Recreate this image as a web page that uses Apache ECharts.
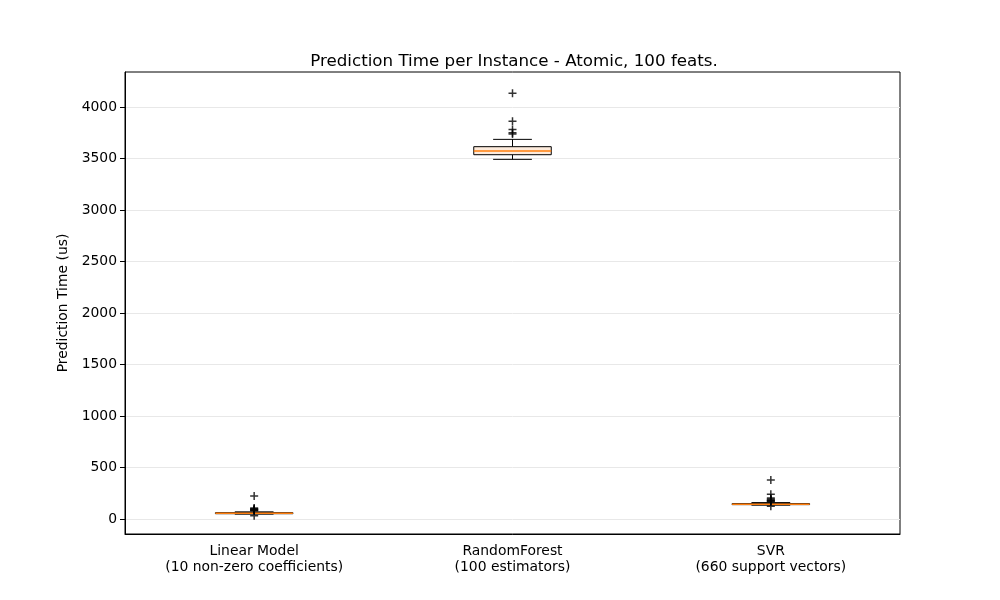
<!DOCTYPE html>
<html>
<head>
<meta charset="utf-8">
<script src="https://cdn.jsdelivr.net/npm/echarts@6/dist/echarts.min.js"></script>
<style>
  html, body { margin: 0; padding: 0; background: #fff; }
  #chart { width: 1000px; height: 600px; }
</style>
</head>
<body>
<div id="chart"></div>
<script>
// box statistics (microseconds)
const categories = [
  'Linear Model\n(10 non-zero coefficients)',
  'RandomForest\n(100 estimators)',
  'SVR\n(660 support vectors)'
];
const whiskerLow  = [48, 3492, 135];
const q1          = [52, 3537, 140];
const medians     = [57, 3573, 145];
const q3          = [62, 3615, 150];
const whiskerHigh = [70, 3686, 160];

// outliers per model
const fliersLinear = [223, 108, 100, 95, 90, 85, 80, 32];
const fliersForest = [4133, 3861, 3783, 3750, 3738];
const fliersSvr    = [380, 240, 205, 195, 185, 180, 175, 170, 125];

const yTicks = [0, 500, 1000, 1500, 2000, 2500, 3000, 3500, 4000];

const font = 'DejaVu Sans';

const boxData = categories.map((c, i) =>
  [i, whiskerLow[i], q1[i], medians[i], q3[i], whiskerHigh[i]]);

const flierData = [];
[fliersLinear, fliersForest, fliersSvr].forEach((arr, i) => {
  arr.forEach(v => flierData.push([i, v]));
});

function renderBox(params, api) {
  const x = api.value(0);
  const band = api.size([1, 0])[0];
  const half = band * 0.15;
  const cap = band * 0.075;
  const pLow = api.coord([x, api.value(1)]);
  const pQ1 = api.coord([x, api.value(2)]);
  const pMed = api.coord([x, api.value(3)]);
  const pQ3 = api.coord([x, api.value(4)]);
  const pHigh = api.coord([x, api.value(5)]);
  const cx = pQ1[0];
  const line = { stroke: '#000', lineWidth: 1 };
  return {
    type: 'group',
    children: [
      { type: 'line', shape: { x1: cx, y1: pQ1[1], x2: cx, y2: pLow[1] }, style: line },
      { type: 'line', shape: { x1: cx, y1: pQ3[1], x2: cx, y2: pHigh[1] }, style: line },
      { type: 'line', shape: { x1: cx - cap, y1: pLow[1], x2: cx + cap, y2: pLow[1] }, style: line },
      { type: 'line', shape: { x1: cx - cap, y1: pHigh[1], x2: cx + cap, y2: pHigh[1] }, style: line },
      { type: 'rect', shape: { x: cx - half, y: pQ3[1], width: half * 2, height: pQ1[1] - pQ3[1] },
        style: { fill: '#fdebdc', stroke: '#000', lineWidth: 1 } },
      { type: 'line', shape: { x1: cx - half, y1: pMed[1], x2: cx + half, y2: pMed[1] },
        style: { stroke: '#ff7f0e', lineWidth: 1.5 } }
    ]
  };
}

const chart = echarts.init(document.getElementById('chart'));
chart.setOption({
  animation: false,
  title: {
    text: 'Prediction Time per Instance - Atomic, 100 feats.',
    left: 509,
    textAlign: 'center',
    top: 48,
    textStyle: { fontFamily: font, fontSize: 16.7, fontWeight: 'normal', color: '#000' }
  },
  grid: {
    left: 125, right: 100, top: 72, bottom: 66,
    show: true, borderColor: '#000', borderWidth: 1
  },
  xAxis: {
    type: 'category',
    data: categories,
    boundaryGap: true,
    axisLine: { onZero: false, lineStyle: { color: '#000' } },
    axisTick: { alignWithLabel: true, length: 5, lineStyle: { color: '#000' } },
    axisLabel: { fontFamily: font, fontSize: 13.9, color: '#000', margin: 9, lineHeight: 16 },
    splitLine: { show: false }
  },
  yAxis: {
    type: 'value',
    min: -145,
    max: 4340,
    name: 'Prediction Time (us)',
    nameLocation: 'middle',
    nameGap: 43,
    nameTextStyle: { fontFamily: font, fontSize: 13.9, color: '#000' },
    axisLine: { show: true, lineStyle: { color: '#000' } },
    axisTick: { show: true, length: 5, customValues: yTicks, lineStyle: { color: '#000' } },
    axisLabel: {
      fontFamily: font, fontSize: 13.9, color: '#000', margin: 8,
      customValues: yTicks,
      formatter: v => String(v)
    },
    splitLine: { show: true, lineStyle: { color: '#e8e8e8', width: 1 } }
  },
  series: [
    {
      type: 'custom',
      renderItem: renderBox,
      data: boxData,
      encode: { x: 0, y: [1, 2, 3, 4, 5] },
      z: 2
    },
    {
      type: 'scatter',
      data: flierData,
      symbol: 'path://M0,5L10,5M5,0L5,10',
      symbolSize: 8,
      itemStyle: { color: 'none', borderColor: '#000', borderWidth: 1.5 },
      z: 3
    }
  ]
});
</script>
</body>
</html>
